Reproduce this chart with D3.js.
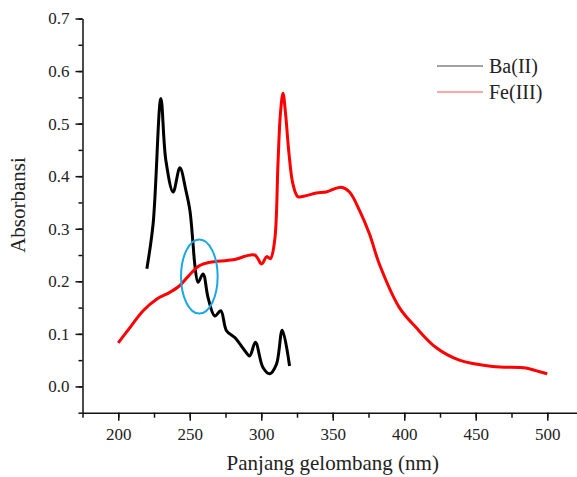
<!DOCTYPE html>
<html>
<head>
<meta charset="utf-8">
<script src="https://cdn.jsdelivr.net/npm/d3@7"></script>
<style>
  body { margin: 0; background: #fff; }
  svg text { font-family: "Liberation Serif", "Times New Roman", serif !important; fill: #222; }
</style>
</head>
<body>
<svg id="chart" width="577" height="477"></svg>
<script>
"use strict";

// Ba(II) spectrum (wavelength nm, absorbance)
const baX = [220, 224.4, 229.8, 233.3, 238.4, 243.1, 247.3, 250.1, 252.3, 253.5, 255.8, 259.3, 262.8,
             267.5, 271.7, 275.7, 281.5, 288.5, 291.9, 295.9, 301.2, 305.9, 310.6, 314.7, 319.8];
const baY = [0.224, 0.310, 0.548, 0.430, 0.370, 0.416, 0.373, 0.335, 0.271, 0.233, 0.198, 0.214, 0.169,
             0.134, 0.144, 0.106, 0.093, 0.068, 0.058, 0.084, 0.036, 0.024, 0.042, 0.107, 0.039];

// Fe(III) spectrum
const feX = [200, 208.2, 217.4, 226.8, 236.1, 243.1, 250.1, 257.0, 264.0, 280.3, 295.4, 300.3, 303.8,
             306.4, 309.4, 311.7, 313.4, 315.2, 317.0, 319.4, 322.1, 325.6, 331.5, 338.5, 345.5, 355.9,
             361.7, 368.7, 375.7, 382.7, 396.6, 408.3, 422.2, 438.5, 461.8, 485.1, 492.0, 500];
const feY = [0.083, 0.112, 0.144, 0.166, 0.179, 0.192, 0.213, 0.230, 0.236, 0.241, 0.250, 0.233, 0.247,
             0.243, 0.278, 0.424, 0.519, 0.558, 0.519, 0.443, 0.386, 0.361, 0.363, 0.368, 0.370, 0.379,
             0.370, 0.335, 0.290, 0.232, 0.150, 0.112, 0.074, 0.050, 0.038, 0.035, 0.030, 0.024];

const seriesNames = ["Ba(II)", "Fe(III)"];
const seriesColors = ["#000", "#ff0000"];
const xTicks = [200, 250, 300, 350, 400, 450, 500];
const yTicks = [0.0, 0.1, 0.2, 0.3, 0.4, 0.5, 0.6, 0.7];
// highlighted region (center wavelength, center absorbance, half-width nm, half-height)
const mark = [256.7, 0.209, 12.8, 0.0705];

const svg = d3.select("#chart");
const mLeft = 82.5, mRight = 583, mTop = 18.5, mBottom = 412.7;

const x = d3.scaleLinear().domain([175, 525]).range([mLeft, mRight]);
const y = d3.scaleLinear().domain([-0.05, 0.7]).range([mBottom, mTop]);

// minor ticks
svg.append("g")
    .attr("transform", `translate(0,${mBottom})`)
    .call(d3.axisBottom(x).tickValues(d3.range(175, 526, 25)).tickSize(5).tickFormat(""))
    .call(g => g.select(".domain").remove());
svg.append("g")
    .attr("transform", `translate(${mLeft},0)`)
    .call(d3.axisLeft(y).tickValues(d3.range(-0.05, 0.701, 0.05)).tickSize(4).tickFormat(""))
    .call(g => g.select(".domain").remove());

// major
const gx = svg.append("g")
    .attr("transform", `translate(0,${mBottom})`)
    .call(d3.axisBottom(x).tickValues(xTicks).tickSize(8).tickPadding(7).tickSizeOuter(0));
const gy = svg.append("g")
    .attr("transform", `translate(${mLeft},0)`)
    .call(d3.axisLeft(y).tickValues(yTicks).tickSize(7).tickPadding(6).tickSizeOuter(0)
        .tickFormat(d3.format(".1f")));

[gx, gy].forEach(g => {
    g.attr("font-family", null).attr("font-size", null);
    g.selectAll("text").style("font-size", "17px").attr("fill", "#222");
});
svg.selectAll(".domain, .tick line").attr("stroke", "#111").attr("stroke-width", 1.5);

const line = d3.line().x(d => x(d[0])).y(d => y(d[1])).curve(d3.curveCatmullRom.alpha(0.5));

const baData = baX.map((v, i) => [v, baY[i]]);
const feData = feX.map((v, i) => [v, feY[i]]);

svg.append("path").datum(baData)
    .attr("d", line).attr("fill", "none")
    .attr("stroke", seriesColors[0]).attr("stroke-width", 3).attr("stroke-linejoin", "round");
svg.append("path").datum(feData)
    .attr("d", line).attr("fill", "none")
    .attr("stroke", seriesColors[1]).attr("stroke-width", 3).attr("stroke-linejoin", "round");

// highlight ellipse
svg.append("ellipse")
    .attr("cx", x(mark[0])).attr("cy", y(mark[1]))
    .attr("rx", x(mark[0] + mark[2]) - x(mark[0]))
    .attr("ry", y(mark[1]) - y(mark[1] + mark[3]))
    .attr("fill", "none").attr("stroke", "#1aa7e6").attr("stroke-width", 2);

// legend
const legend = svg.append("g");
seriesNames.forEach((name, i) => {
    const ly = 66 + i * 26;
    legend.append("line")
        .attr("x1", 437).attr("x2", 483).attr("y1", ly).attr("y2", ly)
        .attr("stroke", i === 0 ? "#444" : "#ff5050").attr("stroke-width", 1.2);
    legend.append("text")
        .attr("x", 489).attr("y", ly + 7)
        .style("font-size", "20px")
        .text(name);
});

// axis titles
svg.append("text")
    .attr("x", (mLeft + mRight) / 2).attr("y", 470)
    .attr("text-anchor", "middle").style("font-size", "21px")
    .text("Panjang gelombang (nm)");
svg.append("text")
    .attr("transform", "translate(25,205) rotate(-90)")
    .attr("text-anchor", "middle").style("font-size", "21px")
    .text("Absorbansi");
</script>
</body>
</html>
